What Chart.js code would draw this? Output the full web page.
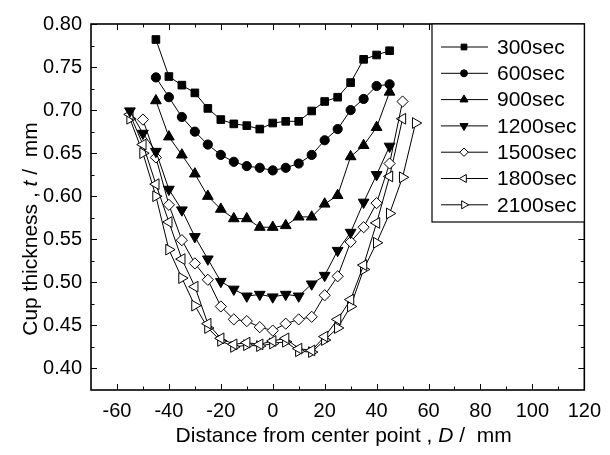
<!DOCTYPE html>
<html><head><meta charset="utf-8">
<script src="https://cdn.jsdelivr.net/npm/chart.js@4.4.1/dist/chart.umd.min.js"></script>
<style>html,body{margin:0;padding:0;background:#fff;} canvas{display:block;}</style>
</head><body>
<canvas id="c" width="610" height="455"></canvas>
<script>
// ---- data ----
const seriesNames = ['300sec','600sec','900sec','1200sec','1500sec','1800sec','2100sec'];

const d300  = [-45,-40,-35,-30,-25,-20,-15,-10,-5,0,5,10,15,20,25,30,35,40,45];
const t300  = [0.782,0.739,0.729,0.720,0.702,0.689,0.684,0.682,0.678,0.685,0.687,0.687,0.699,0.710,0.715,0.732,0.759,0.764,0.769];

const d600  = [-45,-40,-35,-30,-25,-20,-15,-10,-5,0,5,10,15,20,25,30,35,40,45];
const t600  = [0.738,0.715,0.692,0.675,0.660,0.648,0.640,0.635,0.633,0.630,0.633,0.638,0.648,0.665,0.678,0.700,0.713,0.728,0.730];

const d900  = [-45,-40,-35,-30,-25,-20,-15,-10,-5,0,5,10,15,20,25,30,35,40,45];
const t900  = [0.711,0.669,0.648,0.626,0.600,0.585,0.574,0.574,0.564,0.564,0.566,0.576,0.576,0.591,0.601,0.646,0.659,0.680,0.721];

const d1200 = [-55,-50,-45,-40,-35,-30,-25,-20,-15,-10,-5,0,5,10,15,20,25,30,35,40,45];
const t1200 = [0.699,0.673,0.652,0.608,0.584,0.553,0.527,0.501,0.492,0.484,0.486,0.483,0.486,0.484,0.498,0.508,0.537,0.558,0.593,0.625,0.658];

const d1500 = [-50,-45,-40,-35,-30,-25,-20,-15,-10,-5,0,5,10,15,20,25,30,35,40,45,50];
const t1500 = [0.689,0.645,0.590,0.549,0.522,0.503,0.472,0.457,0.455,0.448,0.444,0.452,0.457,0.460,0.485,0.507,0.547,0.564,0.592,0.638,0.710];

const d1800 = [-55,-50,-45,-40,-35,-30,-25,-20,-15,-10,-5,0,5,10,15,20,25,30,35,40,45,50];
const t1800 = [0.695,0.660,0.614,0.570,0.527,0.495,0.452,0.435,0.428,0.430,0.428,0.432,0.435,0.423,0.421,0.437,0.457,0.480,0.520,0.569,0.623,0.690];

const d2100 = [-55,-50,-45,-40,-35,-30,-25,-20,-15,-10,-5,0,5,10,15,20,25,30,35,40,45,50,55];
const t2100 = [0.690,0.650,0.600,0.538,0.505,0.473,0.447,0.432,0.425,0.427,0.426,0.429,0.431,0.420,0.419,0.433,0.447,0.472,0.515,0.546,0.580,0.622,0.685];

const xTicks = [-60,-40,-20,0,20,40,60,80,100,120];
const yTicks = [0.40,0.45,0.50,0.55,0.60,0.65,0.70,0.75,0.80];

// ---- styling ----
const FONT = "'Liberation Sans', Arial, Helvetica, sans-serif";
const markers = [
  {style:'rect',     rot:0,   fill:'#000', r:5.4},
  {style:'circle',   rot:0,   fill:'#000', r:4.6},
  {style:'triangle', rot:0,   fill:'#000', r:6.2},
  {style:'triangle', rot:180, fill:'#000', r:6.2},
  {style:'rectRot',  rot:0,   fill:'#fff', r:5.6},
  {style:'triangle', rot:270, fill:'#fff', r:6.2},
  {style:'triangle', rot:90,  fill:'#fff', r:6.2}
];
const xs = [d300,d600,d900,d1200,d1500,d1800,d2100];
const ts = [t300,t600,t900,t1200,t1500,t1800,t2100];

const datasets = seriesNames.map((name,k)=>({
  label:name,
  data: xs[k].map((x,i)=>({x:x, y:ts[k][i]})),
  showLine:true,
  borderColor:'#000',
  borderWidth:1,
  pointStyle:markers[k].style,
  pointRotation:markers[k].rot,
  pointRadius:markers[k].r,
  pointBackgroundColor:markers[k].fill,
  pointBorderColor:'#000',
  pointBorderWidth:1,
  tension:0
}));

function drawMarker(ctx, m, x, y, r){
  ctx.save();
  ctx.translate(x,y);
  ctx.rotate(m.rot*Math.PI/180);
  ctx.beginPath();
  if(m.style==='rect'){ const s=r*Math.SQRT1_2; ctx.rect(-s,-s,2*s,2*s); }
  else if(m.style==='circle'){ ctx.arc(0,0,r,0,Math.PI*2); }
  else if(m.style==='rectRot'){ ctx.moveTo(0,-r); ctx.lineTo(r,0); ctx.lineTo(0,r); ctx.lineTo(-r,0); ctx.closePath(); }
  else { for(let i=0;i<3;i++){ const a=i*2*Math.PI/3; const px=Math.sin(a)*r, py=-Math.cos(a)*r; if(i===0) ctx.moveTo(px,py); else ctx.lineTo(px,py);} ctx.closePath(); }
  ctx.fillStyle=m.fill; ctx.fill();
  ctx.strokeStyle='#000'; ctx.lineWidth=1; ctx.stroke();
  ctx.restore();
}

const framePlugin = {
  id:'frame',
  afterDatasetsDraw(chart){
    const {ctx, chartArea:a, scales:{x,y}} = chart;
    ctx.save();
    ctx.strokeStyle='#000';
    ctx.lineWidth=1;
    const ln=(x1,y1,x2,y2)=>{ctx.beginPath();ctx.moveTo(x1,y1);ctx.lineTo(x2,y2);ctx.stroke();};
    for(let v=-60; v<=120; v+=10){
      const px=Math.round(x.getPixelForValue(v))+0.5;
      const len=(v%20===0)?6:3.5;
      ln(px,a.bottom,px,a.bottom-len);
      ln(px,a.top,px,a.top+len);
    }
    for(let i=0;i<=16;i++){
      const v=0.40+i*0.025;
      const py=Math.round(y.getPixelForValue(v))+0.5;
      const len=(i%2===0)?6:3.5;
      ln(a.left,py,a.left+len,py);
      ln(a.right,py,a.right-len,py);
    }
    ctx.lineWidth=1.6;
    ctx.strokeRect(a.left, a.top, a.right-a.left, a.bottom-a.top);

    // legend
    const lx=432, ly=a.top, lw=a.right-lx, lh=198;
    ctx.fillStyle='#fff';
    ctx.fillRect(lx,ly,lw,lh);
    ctx.lineWidth=1.2;
    ctx.strokeRect(lx,ly,lw,lh);
    ctx.font='21px '+FONT;
    ctx.textBaseline='middle';
    ctx.textAlign='left';
    seriesNames.forEach((n,k)=>{
      const cy=ly+23+k*26.3;
      ctx.lineWidth=1;
      ctx.strokeStyle='#000';
      ln(441,cy,488,cy);
      drawMarker(ctx,markers[k],464,cy,markers[k].r*0.75);
      ctx.fillStyle='#000';
      ctx.fillText(n,497,cy+1);
    });

    // axis titles
    ctx.fillStyle='#000';
    ctx.textBaseline='alphabetic';
    const parts=[['Distance from center point , ',false],['D',true],[' /  mm',false]];
    const widthOf=(p)=>{ctx.font=(p[1]?'italic ':'')+'21px '+FONT; return ctx.measureText(p[0]).width;};
    let total=parts.reduce((s,p)=>s+widthOf(p),0);
    let sx=(a.left+a.right)/2 - total/2 + 6;
    parts.forEach(p=>{ctx.font=(p[1]?'italic ':'')+'21px '+FONT; ctx.fillText(p[0],sx,442); sx+=ctx.measureText(p[0]).width;});

    ctx.save();
    ctx.translate(37,229);
    ctx.rotate(-Math.PI/2);
    const yparts=[['Cup thickness , ',false],['t',true],[' /  mm',false]];
    total=yparts.reduce((s,p)=>s+widthOf(p),0);
    sx=-total/2;
    yparts.forEach(p=>{ctx.font=(p[1]?'italic ':'')+'21px '+FONT; ctx.fillText(p[0],sx,0); sx+=ctx.measureText(p[0]).width;});
    ctx.restore();
    ctx.restore();
  }
};

new Chart(document.getElementById('c'),{
  type:'scatter',
  data:{datasets},
  options:{
    responsive:false,
    animation:false,
    devicePixelRatio:1,
    layout:{padding:{left:0,right:22,top:24,bottom:0}},
    plugins:{legend:{display:false},tooltip:{enabled:false},title:{display:false}},
    scales:{
      x:{
        type:'linear', min:-70, max:120,
        grid:{display:false, drawTicks:false, tickLength:0}, border:{display:false},
        afterBuildTicks:(s)=>{s.ticks=xTicks.map(v=>({value:v}));},
        afterFit:(s)=>{s.height=65;},
        ticks:{color:'#000', font:{family:FONT,size:20}, padding:9, maxRotation:0, autoSkip:false,
               callback:(v)=> (v<0? '-'+Math.abs(v) : String(v))}
      },
      y:{
        type:'linear', min:0.375, max:0.80,
        grid:{display:false, drawTicks:false, tickLength:0}, border:{display:false},
        afterBuildTicks:(s)=>{s.ticks=yTicks.map(v=>({value:v}));},
        afterFit:(s)=>{s.width=91;},
        ticks:{color:'#000', font:{family:FONT,size:20}, padding:9, autoSkip:false,
               callback:(v)=>Number(v).toFixed(2)}
      }
    }
  },
  plugins:[framePlugin]
});
</script>
</body></html>
